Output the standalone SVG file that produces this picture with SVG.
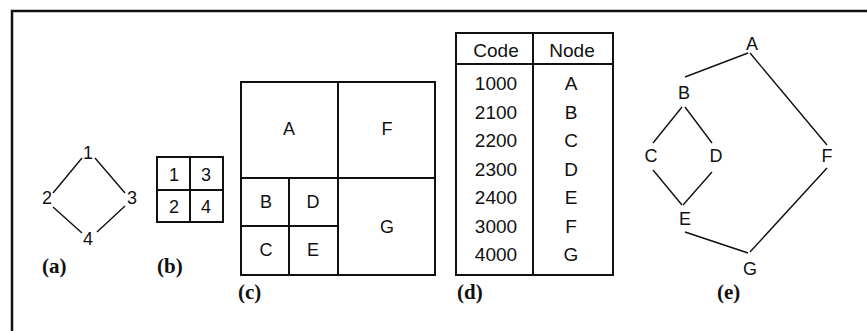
<svg xmlns="http://www.w3.org/2000/svg" width="867" height="331" viewBox="0 0 867 331">
<style>
.t{font-family:"Liberation Sans",Arial,sans-serif;font-size:18px;fill:#111;text-anchor:middle}
.td{font-family:"Liberation Sans",Arial,sans-serif;font-size:19px;fill:#111;text-anchor:middle}
.cap{font-family:"Liberation Serif","Times New Roman",serif;font-size:21px;font-weight:bold;fill:#111}
.box{fill:none;stroke:#111;stroke-width:2}
.edge{fill:none;stroke:#111;stroke-width:1.4}
</style>
<rect width="867" height="331" fill="#fff"/>
<path d="M12,331 V11 H867" fill="none" stroke="#111" stroke-width="2.5"/>

<!-- (a) -->
<g id="graph-a">
  <g id="connectors-a" class="edge">
    <line x1="53" y1="193" x2="82" y2="158"/>
    <line x1="95" y1="158" x2="125" y2="193"/>
    <line x1="53" y1="207" x2="82" y2="233"/>
    <line x1="97" y1="232" x2="125" y2="206"/>
  </g>
  <g id="a-1"><text class="t" x="88" y="159">1</text></g>
  <g id="a-2"><text class="t" x="47" y="204">2</text></g>
  <g id="a-3"><text class="t" x="132" y="204">3</text></g>
  <g id="a-4"><text class="t" x="88" y="245">4</text></g>
  <text class="cap" x="42" y="273">(a)</text>
</g>

<!-- (b) -->
<g id="grid-b">
  <rect class="box" x="157" y="157" width="66" height="65"/>
  <line class="box" x1="190" y1="157" x2="190" y2="222"/>
  <line class="box" x1="157" y1="190" x2="223" y2="190"/>
  <text class="t" x="174" y="181">1</text>
  <text class="t" x="206" y="181">3</text>
  <text class="t" x="174" y="213">2</text>
  <text class="t" x="206" y="213">4</text>
  <text class="cap" x="157" y="273">(b)</text>
</g>

<!-- (c) -->
<g id="quadtree-c">
  <rect class="box" x="241" y="82" width="194" height="193"/>
  <line class="box" x1="338" y1="82" x2="338" y2="275"/>
  <line class="box" x1="241" y1="178" x2="435" y2="178"/>
  <line class="box" x1="289" y1="178" x2="289" y2="275"/>
  <line class="box" x1="241" y1="226" x2="338" y2="226"/>
  <text class="t" x="289" y="135">A</text>
  <text class="t" x="387" y="135">F</text>
  <text class="t" x="266" y="208">B</text>
  <text class="t" x="313" y="208">D</text>
  <text class="t" x="266" y="256">C</text>
  <text class="t" x="313" y="256">E</text>
  <text class="t" x="387" y="233">G</text>
  <text class="cap" x="238" y="299">(c)</text>
</g>

<!-- (d) -->
<g id="table-d">
  <rect class="box" x="456" y="33" width="157" height="242"/>
  <line class="box" x1="533" y1="33" x2="533" y2="275"/>
  <line class="box" x1="456" y1="64" x2="613" y2="64"/>
  <text class="td" x="496" y="57">Code</text>
  <text class="td" x="572" y="57">Node</text>
  <text class="td" x="496" y="90">1000</text><text class="td" x="571" y="90">A</text>
  <text class="td" x="496" y="118.5">2100</text><text class="td" x="571" y="118.5">B</text>
  <text class="td" x="496" y="147">2200</text><text class="td" x="571" y="147">C</text>
  <text class="td" x="496" y="175.5">2300</text><text class="td" x="571" y="175.5">D</text>
  <text class="td" x="496" y="204">2400</text><text class="td" x="571" y="204">E</text>
  <text class="td" x="496" y="232.5">3000</text><text class="td" x="571" y="232.5">F</text>
  <text class="td" x="496" y="261">4000</text><text class="td" x="571" y="261">G</text>
  <text class="cap" x="457" y="299">(d)</text>
</g>

<!-- (e) -->
<g id="graph-e">
  <g id="connectors-e" class="edge">
    <line x1="748" y1="53" x2="685" y2="77"/>
    <line x1="750" y1="53" x2="827" y2="145"/>
    <line x1="682" y1="107" x2="653" y2="143"/>
    <line x1="685" y1="107" x2="712" y2="143"/>
    <line x1="653" y1="170" x2="682" y2="205"/>
    <line x1="712" y1="172" x2="683" y2="205"/>
    <line x1="685" y1="232" x2="748" y2="253"/>
    <line x1="827" y1="168" x2="750" y2="252"/>
  </g>
  <g id="e-A"><text class="t" x="752" y="50">A</text></g>
  <g id="e-B"><text class="t" x="684" y="99">B</text></g>
  <g id="e-C"><text class="t" x="651" y="162">C</text></g>
  <g id="e-D"><text class="t" x="716" y="162">D</text></g>
  <g id="e-F"><text class="t" x="827" y="162">F</text></g>
  <g id="e-E"><text class="t" x="685" y="225">E</text></g>
  <g id="e-G"><text class="t" x="750" y="275">G</text></g>
  <text class="cap" x="717" y="299">(e)</text>
</g>
</svg>
